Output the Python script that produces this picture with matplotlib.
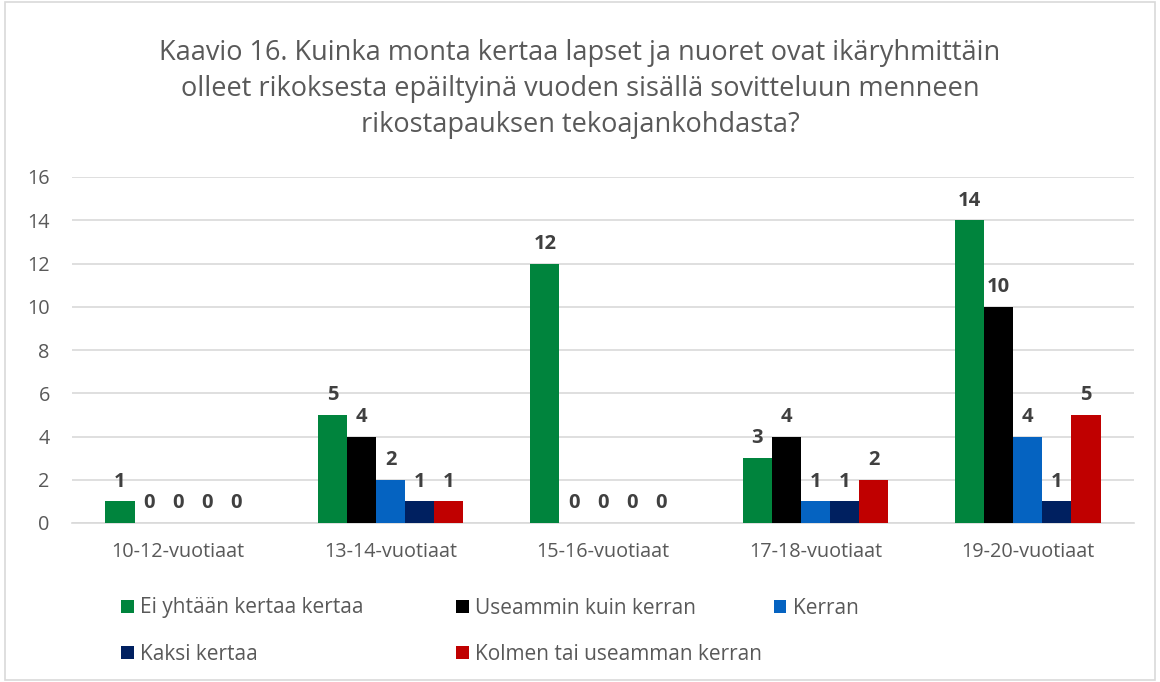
import numpy as np
import matplotlib
matplotlib.use("Agg")
import matplotlib.pyplot as plt
from matplotlib.patches import Rectangle

plt.rcParams["font.family"] = ["Open Sans", "DejaVu Sans"]

categories = ["10-12-vuotiaat", "13-14-vuotiaat", "15-16-vuotiaat", "17-18-vuotiaat", "19-20-vuotiaat"]
series_names = ["Ei yhtään kertaa kertaa", "Useammin kuin kerran", "Kerran",
                "Kaksi kertaa", "Kolmen tai useamman kerran"]
ei_yhtaan = [1, 5, 12, 3, 14]
useammin = [0, 4, 0, 4, 10]
kerran = [0, 2, 0, 1, 4]
kaksi = [0, 1, 0, 1, 1]
kolmen = [0, 1, 0, 2, 5]
series = [ei_yhtaan, useammin, kerran, kaksi, kolmen]
colors = ["#00843D", "#000000", "#0563C1", "#002060", "#C00000"]

title = ("Kaavio 16. Kuinka monta kertaa lapset ja nuoret ovat ikäryhmittäin\n"
         "olleet rikoksesta epäiltyinä vuoden sisällä sovitteluun menneen\n"
         "rikostapauksen tekoajankohdasta?")

W, H = 1160, 682
fig = plt.figure(figsize=(W / 100, H / 100), dpi=100)
ax = fig.add_axes([72 / W, 1 - 523 / H, (1134 - 72) / W, (523 - 177) / H])

# outer chart border
fig.patches.append(Rectangle((0.004, 0.003), 0.992, 0.994, transform=fig.transFigure,
                             fill=False, edgecolor="#D9D9D9", linewidth=1.2))

x = np.arange(len(categories))
w = 0.137
handles = []
for i, (vals, col) in enumerate(zip(series, colors)):
    pos = x + (i - 2) * w
    bars = ax.bar(pos, vals, width=w, color=col, label=series_names[i], zorder=3)
    handles.append(bars)
    for xp, v in zip(pos, vals):
        ax.text(xp, v + 0.45, str(v), ha="center", va="bottom", fontsize=14.5,
                fontweight="bold", color="#404040")

ax.set_xlim(-0.5, len(categories) - 0.5)
ax.set_ylim(0, 16)
ax.set_yticks(range(0, 17, 2))
ax.grid(axis="y", color="#D9D9D9", linewidth=1.2, zorder=0)
for s in ["top", "right", "left"]:
    ax.spines[s].set_visible(False)
ax.spines["bottom"].set_color("#D9D9D9")
ax.spines["bottom"].set_linewidth(1.2)
ax.tick_params(axis="both", length=0, labelsize=14.3, labelcolor="#595959")
ax.tick_params(axis="y", pad=16)
ax.tick_params(axis="x", pad=14)
ax.set_xticks(x)
ax.set_xticklabels(categories)

fig.text(0.5, 1 - 89 / H, title, ha="center", va="center", fontsize=19.5,
         color="#595959", linespacing=1.38)

# legend: rows filled left to right, like Excel
leg_pos = [(121, 608), (456, 608), (774, 608), (121, 654), (456, 654)]
for hnd, name, (lx, ly) in zip(handles, series_names, leg_pos):
    lg = fig.legend([hnd], [name], loc="center left", bbox_to_anchor=(lx / W, 1 - ly / H),
                    frameon=False, fontsize=15, handlelength=0.6, handleheight=0.6,
                    handletextpad=0.3, borderpad=0, borderaxespad=0)
    for t in lg.get_texts():
        t.set_color("#595959")

fig.savefig("out.png", dpi=100)
